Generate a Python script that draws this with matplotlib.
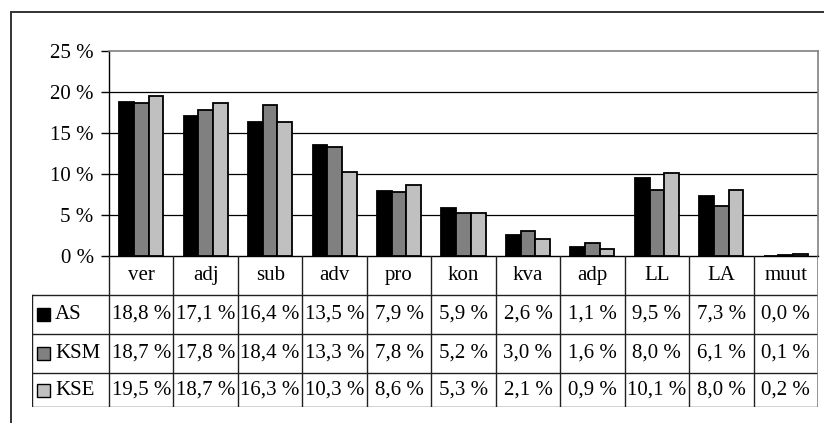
import matplotlib
matplotlib.use("Agg")
import matplotlib.pyplot as plt
from matplotlib.patches import Rectangle
from matplotlib.lines import Line2D

categories = ["ver", "adj", "sub", "adv", "pro", "kon", "kva", "adp", "LL", "LA", "muut"]
series_names = ["AS", "KSM", "KSE"]
as_values = [18.8, 17.1, 16.4, 13.5, 7.9, 5.9, 2.6, 1.1, 9.5, 7.3, 0.0]
ksm_values = [18.7, 17.8, 18.4, 13.3, 7.8, 5.2, 3.0, 1.6, 8.0, 6.1, 0.1]
kse_values = [19.5, 18.7, 16.3, 10.3, 8.6, 5.3, 2.1, 0.9, 10.1, 8.0, 0.2]
y_ticks = [0, 5, 10, 15, 20, 25]

series = [as_values, ksm_values, kse_values]
colors = ["#000000", "#808080", "#c0c0c0"]

plt.rcParams["font.family"] = ["Liberation Serif", "DejaVu Serif"]
FS = 15

W, H = 824, 423
fig = plt.figure(figsize=(W / 100, H / 100), dpi=100)


def fx(px):
    return px / W


def fy(py):
    return 1 - py / H


# outer chart frame
fig.patches.append(Rectangle((fx(11), -0.1), 1.2, fy(12) + 0.1, transform=fig.transFigure,
                             fill=False, edgecolor="#333333", linewidth=1.4, zorder=0))

# plot area
L, R, T, B = 109, 818, 51, 256
ax = fig.add_axes([fx(L), fy(B), fx(R) - fx(L), fy(T) - fy(B)])
n = len(categories)
ax.set_xlim(-0.5, n - 0.5)
ax.set_ylim(0, 25)

bw = 0.228
for i, (vals, c) in enumerate(zip(series, colors)):
    xs = [k + (i - 1) * bw for k in range(n)]
    ax.bar(xs, vals, width=bw, color=c, edgecolor="black", linewidth=1.3, zorder=3)

for v in y_ticks[1:-1]:
    ax.axhline(v, color="black", linewidth=0.9, zorder=1)
ax.set_yticks(y_ticks)
ax.set_yticklabels([f"{v} %" for v in y_ticks], fontsize=FS)
ax.tick_params(axis="y", direction="out", length=6, width=1, pad=5)
ax.set_xticks([])
for s in ["top", "right"]:
    ax.spines[s].set_color("#808080")
    ax.spines[s].set_linewidth(1.2)
ax.spines["left"].set_linewidth(1.0)
ax.spines["bottom"].set_linewidth(1.0)

# data table below the plot area
TL = 32
rows_y = [256, 295, 334, 373, 407]
tab = fig.add_axes([fx(TL), fy(rows_y[-1]), fx(R) - fx(TL), fy(rows_y[0]) - fy(rows_y[-1])])
cell_w = (R - L) / n
head_units = (L - TL) / cell_w
tab.set_xlim(-0.5 - head_units, n - 0.5)
tab.set_ylim(rows_y[-1], rows_y[0])
tab.axis("off")

lc = "#202020"
lw = 1.0
x0 = -0.5 - head_units
# horizontal rules
for yy in rows_y[1:]:
    tab.add_line(Line2D([x0, n - 0.5], [yy, yy], color=lc, linewidth=lw))
# vertical rules
for k in range(n + 1):
    xx = k - 0.5
    col = "#808080" if k == n else lc
    tab.add_line(Line2D([xx, xx], [rows_y[0], rows_y[-1]], color=col, linewidth=1.2 if k == n else lw))
tab.add_line(Line2D([x0, x0], [rows_y[1], rows_y[-1]], color=lc, linewidth=lw))

for k, name in enumerate(categories):
    tab.text(k, (rows_y[0] + rows_y[1]) / 2, name, ha="center", va="center", fontsize=FS)

for r, (name, vals, c) in enumerate(zip(series_names, series, colors)):
    yc = (rows_y[r + 1] + rows_y[r + 2]) / 2
    sq = 13 / cell_w
    tab.add_patch(Rectangle((x0 + 5 / cell_w, yc - 6.5), sq, 13, facecolor=c,
                            edgecolor="black", linewidth=1.0))
    tab.text(x0 + 23 / cell_w, yc, name, ha="left", va="center", fontsize=FS)
    for k, v in enumerate(vals):
        tab.text(k, yc, f"{v:.1f} %".replace(".", ","), ha="center", va="center", fontsize=FS)

fig.savefig("out.png", dpi=100)
